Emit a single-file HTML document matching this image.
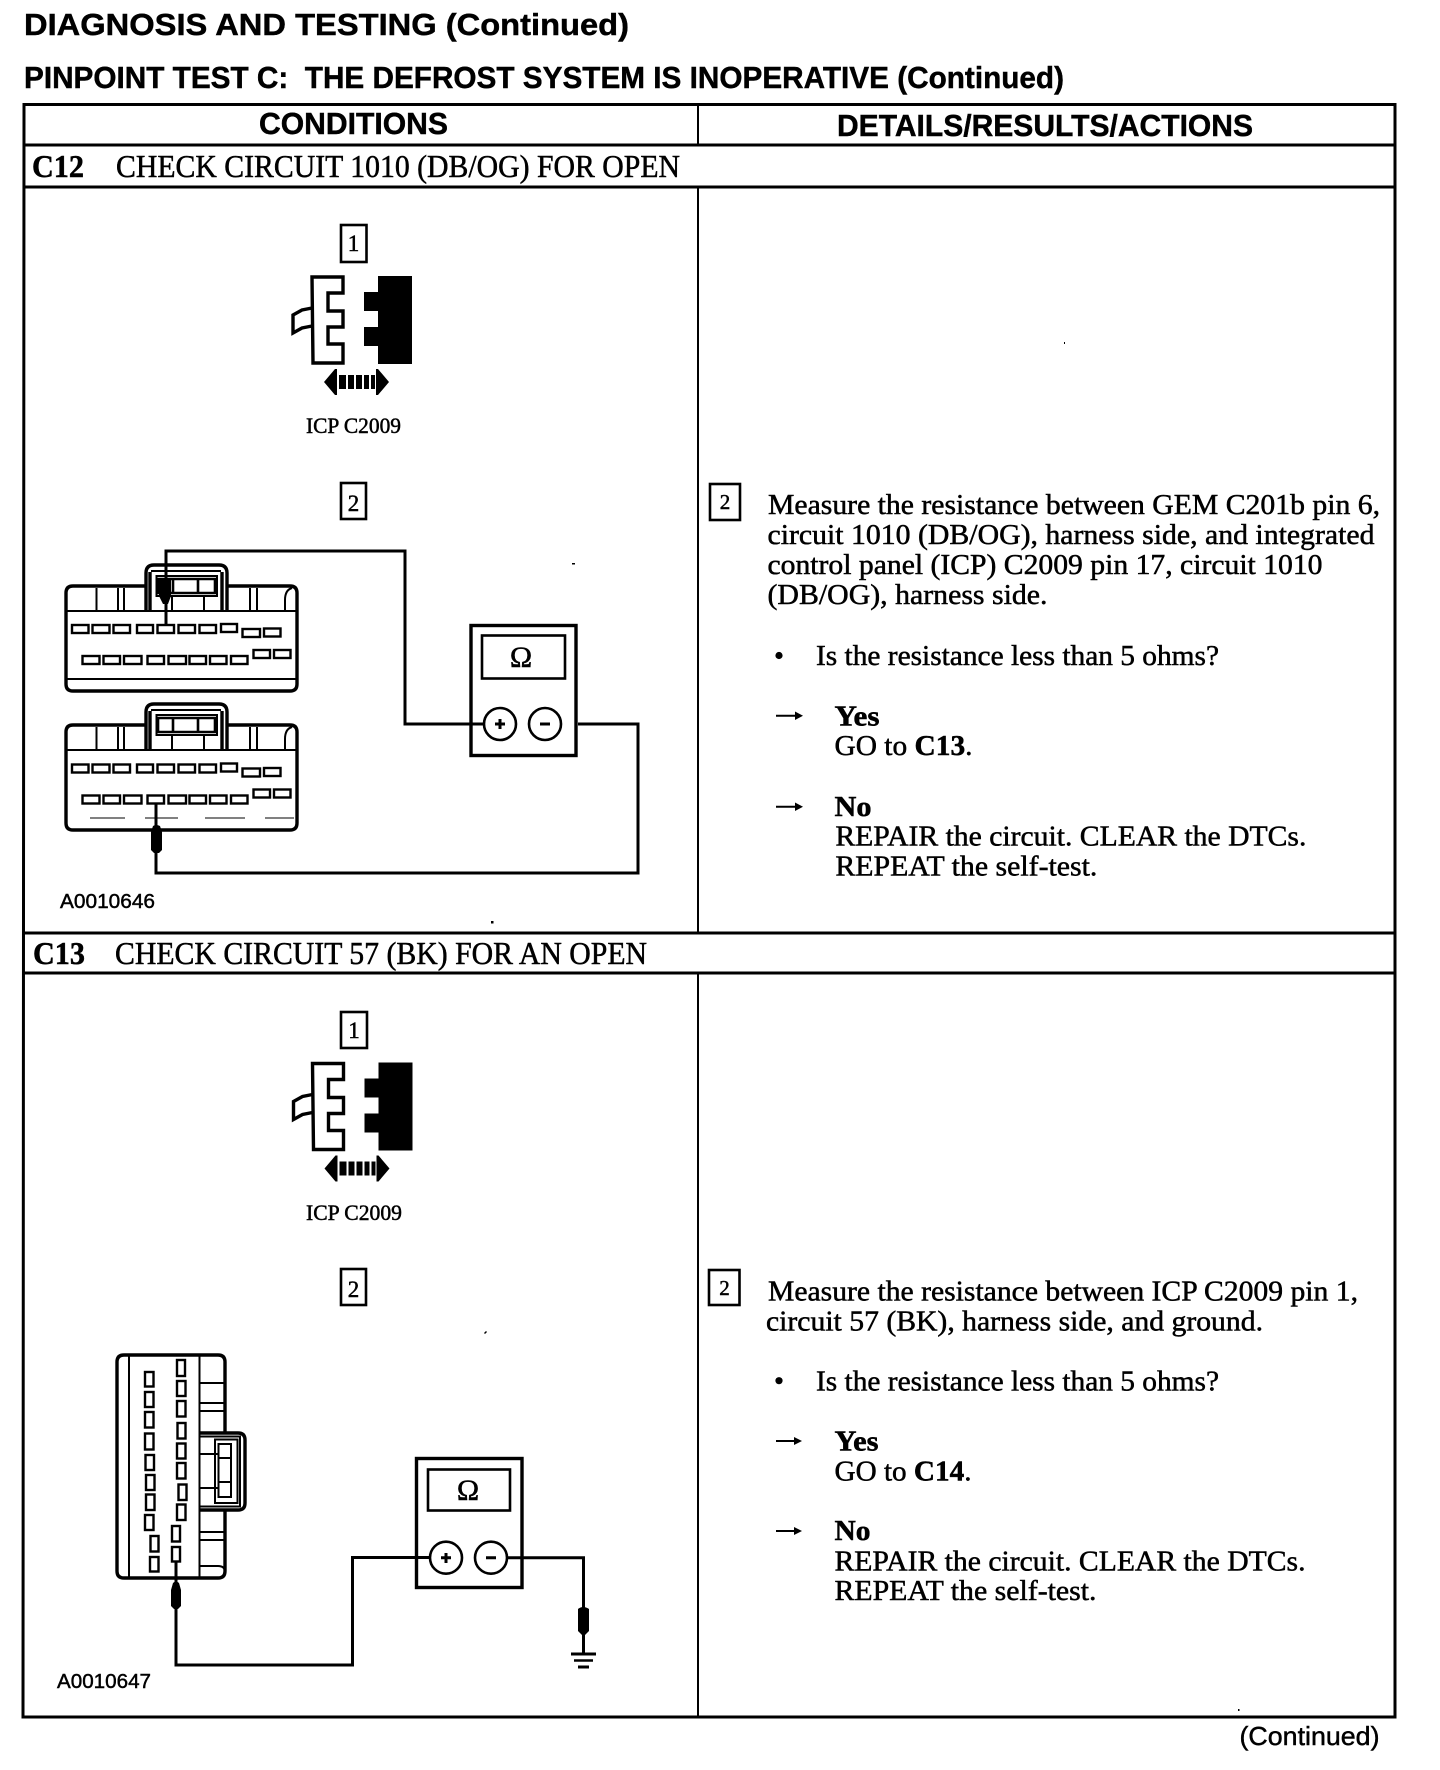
<!DOCTYPE html>
<html>
<head>
<meta charset="utf-8">
<style>
html,body{margin:0;padding:0;background:#fff;width:1440px;height:1770px;overflow:hidden}
svg{display:block}
text{fill:#000}
.s{font-family:"Liberation Serif",serif;stroke:#000;stroke-width:.5px}
.a{font-family:"Liberation Sans",sans-serif;stroke:#000;stroke-width:.45px}
.b{font-weight:bold}
.l{fill:none;stroke:#000;stroke-width:3}
.c{fill:none;stroke:#000;stroke-width:3.4}
.w{fill:none;stroke:#000;stroke-width:3}
.t{fill:none;stroke:#000;stroke-width:2.6}
.n{fill:none;stroke:#000;stroke-width:2}
.f{fill:none;stroke:#000;stroke-width:1}
.slot rect{fill:#fff;stroke:#000;stroke-width:2.4}
</style>
</head>
<body>
<svg xmlns="http://www.w3.org/2000/svg" width="1440" height="1770" viewBox="0 0 1440 1770">
<rect width="1440" height="1770" fill="#fff"/>
<defs>
<g id="conn">
<path class="c" d="M312 277H343V293H328V311H343V327H328V344H343V363H313Z"/>
<path class="c" d="M312 308L302 310L293 315V333L302 328L312 326"/>
<path fill="#000" d="M378 276H412V364H378V346H364V327H378V311H364V292H378Z"/>
<path fill="#000" d="M324 382L335 369H337V395H335Z"/>
<path fill="#000" d="M389 382L378 369H376V395H378Z"/>
<path fill="#000" d="M339 375h7v14h-7zM348 375h6v14h-6zM356 375h6v14h-6zM364 375h5v14h-5zM371 375h4v14h-4z"/>
</g>
<g id="slots" class="slot">
<rect x="72" y="625" width="16.5" height="8"/><rect x="92.5" y="625" width="17" height="8"/><rect x="113.5" y="625" width="16.5" height="8"/><rect x="137" y="625" width="16" height="8"/><rect x="157.5" y="625" width="16.5" height="8"/><rect x="178.5" y="625" width="16.5" height="8"/><rect x="199.5" y="625" width="16.5" height="8"/><rect x="221" y="624" width="16" height="8"/>
<rect x="242.5" y="629" width="17.5" height="8"/><rect x="264" y="628.5" width="16.5" height="8"/>
<rect x="82.5" y="656" width="17" height="8"/><rect x="103.5" y="656" width="16.5" height="8"/><rect x="124" y="656" width="17.5" height="8"/><rect x="147.5" y="656" width="16.5" height="8"/><rect x="168.5" y="656" width="17.5" height="8"/><rect x="189.5" y="656" width="16.5" height="8"/><rect x="210" y="656" width="16.5" height="8"/><rect x="231" y="656" width="16.5" height="8"/>
<rect x="253.5" y="650" width="16.5" height="8"/><rect x="274" y="650" width="16.5" height="8"/>
</g>
<g id="body">
<path class="c" d="M146 586H73Q66 586 66 593V684Q66 691 73 691H290Q297 691 297 684V593Q297 586 290 586H227"/>
<path class="n" d="M66 611H297"/>
<path class="n" d="M96.5 588V611M118 588V611M124 588V611M250 588V611M257 588V611M285 611V600Q285 590 292 588"/>
<path class="c" d="M150 572V611M222 572V611M146 611V573Q146 565 154 565H219Q227 565 227 573V611"/>
<path class="n" d="M151 571H221M156.5 576H217V596H156.5ZM172 596V611M204 596V611M158 596H172"/>
<path class="t" d="M158 579H215V593H158ZM173 579V593M198 579V593"/>
</g>
<g id="meterc">
<ellipse cx="0" cy="0" rx="16" ry="16" fill="#fff" stroke="#000" stroke-width="2.6"/>
</g>
</defs>

<!-- Headings -->
<text class="a b" x="24" y="35" font-size="31" textLength="605" lengthAdjust="spacingAndGlyphs">DIAGNOSIS AND TESTING (Continued)</text>
<text class="a b" x="24" y="88" font-size="31" textLength="1040" lengthAdjust="spacingAndGlyphs" xml:space="preserve">PINPOINT TEST C:  THE DEFROST SYSTEM IS INOPERATIVE (Continued)</text>

<!-- Table -->
<path class="l" d="M24 104.5H1395V1717H23Z"/>
<path class="l" d="M24 145H1395M24 187H1395M24 933H1395M24 973H1395"/>
<path class="n" stroke-width="2.4" d="M698 104.5V145M698 187V933M698 973V1717"/>

<text class="a b" x="259" y="134" font-size="31" textLength="189" lengthAdjust="spacingAndGlyphs">CONDITIONS</text>
<text class="a b" x="837" y="136" font-size="31" textLength="416" lengthAdjust="spacingAndGlyphs">DETAILS/RESULTS/ACTIONS</text>

<text class="s b" x="32" y="177" font-size="32" textLength="52" lengthAdjust="spacingAndGlyphs">C12</text>
<text class="s" x="116" y="177" font-size="32" textLength="564" lengthAdjust="spacingAndGlyphs">CHECK CIRCUIT 1010 (DB/OG) FOR OPEN</text>
<text class="s b" x="33" y="964" font-size="32" textLength="52" lengthAdjust="spacingAndGlyphs">C13</text>
<text class="s" x="115" y="964" font-size="32" textLength="532" lengthAdjust="spacingAndGlyphs">CHECK CIRCUIT 57 (BK) FOR AN OPEN</text>

<!-- C12 left -->
<rect class="t" x="341" y="225" width="25.5" height="37"/>
<text class="s" x="353.5" y="251" font-size="23" text-anchor="middle">1</text>
<use href="#conn"/>
<text class="s" x="306" y="433" font-size="22" textLength="95" lengthAdjust="spacingAndGlyphs">ICP C2009</text>
<rect class="t" x="341" y="483" width="25" height="36"/>
<text class="s" x="353.5" y="511" font-size="23" text-anchor="middle">2</text>

<use href="#body"/>
<path class="n" d="M66 679H297"/>
<use href="#slots"/>
<use href="#body" transform="translate(0 139)"/>
<use href="#slots" transform="translate(0 139.5)"/>
<path class="f" d="M90 818H125M145 818H178M205 818H245M265 818H294"/>

<!-- C12 wires -->
<path class="w" d="M166 625V551H405V724H484"/>
<path fill="#000" d="M159 578H171V596L168 604H163L159 596Z"/>
<path class="w" d="M156 804V873H638V724H578"/>
<path fill="#000" d="M153 826Q156 824 160 826L162 832V850L159 853H154L151 850V832Z"/>

<rect x="471" y="625.5" width="105" height="130" fill="none" stroke="#000" stroke-width="3.4"/>
<rect x="482" y="635.5" width="83" height="43" fill="none" stroke="#000" stroke-width="2.6"/>
<text class="s" x="521" y="667" font-size="30" text-anchor="middle">Ω</text>
<use href="#meterc" x="500" y="724"/>
<use href="#meterc" x="545" y="724"/>
<path d="M495 724H505M500 719V729M540 724H550" stroke="#000" stroke-width="3" fill="none"/>

<text class="a" x="60" y="908" font-size="20" textLength="95" lengthAdjust="spacingAndGlyphs">A0010646</text>

<!-- C12 right -->
<rect class="t" x="710" y="484" width="30" height="36"/>
<text class="s" x="725" y="509" font-size="21" text-anchor="middle">2</text>
<text class="s" x="768" y="514" font-size="29" textLength="612" lengthAdjust="spacingAndGlyphs">Measure the resistance between GEM C201b pin 6,</text>
<text class="s" x="767.5" y="544" font-size="29" textLength="607" lengthAdjust="spacingAndGlyphs">circuit 1010 (DB/OG), harness side, and integrated</text>
<text class="s" x="767.5" y="574" font-size="29" textLength="555" lengthAdjust="spacingAndGlyphs">control panel (ICP) C2009 pin 17, circuit 1010</text>
<text class="s" x="767.5" y="604" font-size="29" textLength="280" lengthAdjust="spacingAndGlyphs">(DB/OG), harness side.</text>
<circle cx="779" cy="655.5" r="3.6" fill="#000"/>
<text class="s" x="816" y="665" font-size="29" textLength="403" lengthAdjust="spacingAndGlyphs">Is the resistance less than 5 ohms?</text>
<path d="M776 715.7H798" stroke="#000" stroke-width="2"/><path d="M803 715.7L795 711.5V720Z" fill="#000"/>
<text class="s b" x="834.5" y="725.7" font-size="29" textLength="45" lengthAdjust="spacingAndGlyphs">Yes</text>
<text class="s" x="834.5" y="755" font-size="29" textLength="138" lengthAdjust="spacingAndGlyphs">GO to <tspan class="b">C13</tspan>.</text>
<path d="M776 806.7H798" stroke="#000" stroke-width="2"/><path d="M803 806.7L795 802.5V811Z" fill="#000"/>
<text class="s b" x="834.5" y="816" font-size="29" textLength="37" lengthAdjust="spacingAndGlyphs">No</text>
<text class="s" x="835.4" y="845.7" font-size="29" textLength="471" lengthAdjust="spacingAndGlyphs">REPAIR the circuit. CLEAR the DTCs.</text>
<text class="s" x="835.4" y="875.7" font-size="29" textLength="262" lengthAdjust="spacingAndGlyphs">REPEAT the self-test.</text>

<!-- C13 left -->
<rect class="t" x="341" y="1012" width="26" height="36"/>
<text class="s" x="354" y="1038" font-size="23" text-anchor="middle">1</text>
<use href="#conn" transform="translate(0.5 786.5)"/>
<text class="s" x="306" y="1220" font-size="22" textLength="96" lengthAdjust="spacingAndGlyphs">ICP C2009</text>
<rect class="t" x="341" y="1269" width="25" height="36"/>
<text class="s" x="353.5" y="1297" font-size="23" text-anchor="middle">2</text>

<path class="c" d="M225 1433V1362Q225 1355 218 1355H124Q117 1355 117 1362V1571Q117 1578 124 1578H218Q225 1578 225 1571V1510"/>
<path class="n" d="M129 1355V1578M199.5 1355V1578M199.5 1383H225M199.5 1403H225M199.5 1411H225M199.5 1532H225M199.5 1540H225M199.5 1566H218Q225 1566 225 1572"/>
<path class="c" d="M199 1433H238Q245 1433 245 1440V1503Q245 1510 238 1510H199"/>
<path class="n" d="M199 1436.5H240V1506.5H199M215 1439.5H237.5V1503H215ZM218.5 1444H231V1497H218.5ZM218.5 1458H231M218.5 1482H231M199.5 1454H218M199.5 1488H218"/>
<g class="slot">
<rect x="145" y="1372" width="8.5" height="14.5"/><rect x="145" y="1392" width="8.5" height="15"/><rect x="145" y="1412" width="8.5" height="15.5"/><rect x="145" y="1433.5" width="8.5" height="16"/><rect x="145.5" y="1455" width="8.5" height="15"/><rect x="146" y="1475" width="8.5" height="15"/><rect x="146" y="1494.5" width="8.5" height="15.5"/><rect x="145" y="1515" width="8.5" height="15"/>
<rect x="150.5" y="1536" width="8" height="15.5"/><rect x="150" y="1557" width="8.5" height="14.5"/>
<rect x="177" y="1360" width="8" height="16"/><rect x="177" y="1381" width="8.5" height="15"/><rect x="177" y="1401" width="8.5" height="15.5"/><rect x="177.5" y="1423" width="8" height="15.5"/><rect x="177" y="1443.5" width="8.5" height="15"/><rect x="177" y="1463" width="8.5" height="15.5"/><rect x="178.5" y="1484.5" width="8" height="15.5"/><rect x="177" y="1504.5" width="8.5" height="15.5"/>
<rect x="172" y="1526" width="8" height="15.5"/><rect x="172" y="1547" width="8" height="14.5"/>
</g>
<path class="w" d="M176 1562V1665H352.5V1557.5H430"/>
<path fill="#000" d="M173 1583Q176 1580 179 1583L181 1590V1606L178 1609H174L171 1606V1590Z"/>

<rect x="416.5" y="1458.5" width="105.5" height="129" fill="none" stroke="#000" stroke-width="3.4"/>
<rect x="428" y="1469.5" width="82" height="41" fill="none" stroke="#000" stroke-width="2.6"/>
<text class="s" x="468" y="1500" font-size="30" text-anchor="middle">Ω</text>
<use href="#meterc" x="446" y="1557.7"/>
<use href="#meterc" x="491" y="1557.7"/>
<path d="M441 1557.7H451M446 1553V1563M486 1557.7H496" stroke="#000" stroke-width="3" fill="none"/>
<path class="w" d="M508 1557.7H583.5V1653"/>
<path fill="#000" d="M578 1609Q583 1605 589 1609V1631L585 1635H582L578 1631Z"/>
<path d="M571 1654H596" stroke="#000" stroke-width="3"/>
<path d="M574 1660.5H593" stroke="#000" stroke-width="2.4"/>
<path d="M578 1667H589" stroke="#000" stroke-width="3"/>
<text class="a" x="57" y="1688" font-size="20" textLength="94" lengthAdjust="spacingAndGlyphs">A0010647</text>

<!-- C13 right -->
<rect class="t" x="709" y="1270" width="30.5" height="35"/>
<text class="s" x="724.5" y="1295" font-size="21" text-anchor="middle">2</text>
<text class="s" x="768" y="1300.7" font-size="29" textLength="590" lengthAdjust="spacingAndGlyphs">Measure the resistance between ICP C2009 pin 1,</text>
<text class="s" x="766" y="1330.7" font-size="29" textLength="497" lengthAdjust="spacingAndGlyphs">circuit 57 (BK), harness side, and ground.</text>
<circle cx="779" cy="1380.7" r="3.6" fill="#000"/>
<text class="s" x="816" y="1390.7" font-size="29" textLength="403" lengthAdjust="spacingAndGlyphs">Is the resistance less than 5 ohms?</text>
<path d="M776 1441H796" stroke="#000" stroke-width="2"/><path d="M802 1441L794 1437V1445Z" fill="#000"/>
<text class="s b" x="834.5" y="1450.7" font-size="29" textLength="44" lengthAdjust="spacingAndGlyphs">Yes</text>
<text class="s" x="834.5" y="1480.7" font-size="29" textLength="137" lengthAdjust="spacingAndGlyphs">GO to <tspan class="b">C14</tspan>.</text>
<path d="M776 1531H796" stroke="#000" stroke-width="2"/><path d="M802 1531L794 1527V1535Z" fill="#000"/>
<text class="s b" x="834.5" y="1540" font-size="29" textLength="36" lengthAdjust="spacingAndGlyphs">No</text>
<text class="s" x="834.5" y="1570.7" font-size="29" textLength="471" lengthAdjust="spacingAndGlyphs">REPAIR the circuit. CLEAR the DTCs.</text>
<text class="s" x="834.5" y="1600" font-size="29" textLength="262" lengthAdjust="spacingAndGlyphs">REPEAT the self-test.</text>

<text class="a" x="1239.5" y="1745" font-size="26" textLength="140" lengthAdjust="spacingAndGlyphs">(Continued)</text>

<!-- specks -->
<path fill="#000" d="M572 563h3v1.5h-3zM491 921h2.5v2.5h-2.5zM484 1333l2-2 1 1-2 2zM1064 342h1v2h-1zM1238 1709h1.5v2h-1.5z"/>
</svg>
</body>
</html>
